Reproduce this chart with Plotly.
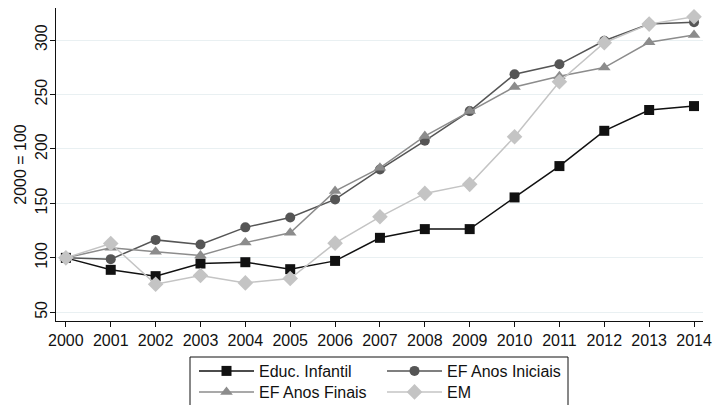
import plotly.graph_objects as go

years = list(range(2000, 2015))
educ_infantil = [100, 89, 83.2, 94.8, 96, 89.6, 97.2, 118.4, 126.4, 126.4, 155.5, 184.3, 216.7, 235.8, 239.4]
ef_iniciais = [100, 98.8, 116.5, 112.3, 128, 137.1, 153.7, 181.2, 207.5, 234.8, 268.6, 277.8, 299.4, 314.7, 316.5]
ef_finais = [100, 109.2, 105.5, 102.2, 114, 123, 161.3, 182.7, 211.9, 234.8, 257, 266.8, 274.8, 298, 304.7]
em = [100, 113.2, 75.8, 83.8, 77, 81, 113.5, 137.7, 159.2, 167.5, 211.2, 261.8, 297.6, 314.7, 321.5]
y_ticks = [50, 100, 150, 200, 250, 300]

FONT = "Liberation Sans, Arial, Helvetica, sans-serif"
FS = 16

series = [
    ("Educ. Infantil", educ_infantil, "#111111", "square", 10, "legend"),
    ("EF Anos Iniciais", ef_iniciais, "#555555", "circle", 10, "legend"),
    ("EF Anos Finais", ef_finais, "#8c8c8c", "triangle-up", 11, "legend2"),
    ("EM", em, "#c4c4c4", "diamond", 12, "legend2"),
]

fig = go.Figure()
for name, vals, color, sym, size, lg in series:
    fig.add_trace(go.Scatter(
        x=years, y=vals, name=name, mode="lines+markers",
        line=dict(color=color, width=1.5),
        marker=dict(symbol=sym, size=size, color=color, line=dict(width=0)),
        legend=lg,
    ))

# body margin removed by post_script, so no page offset
OFF = 0
W, H = 713 - OFF, 405 - OFF
# desired plot area in screenshot pixels
PL, PR, PT, PB = 56, 703, 8, 321
ml, mr, mt, mb = PL - OFF, W - (PR - OFF), PT - OFF, H - (PB - OFF)
pw, ph = W - ml - mr, H - mt - mb

def px_x(px):
    return (px - OFF - ml) / pw

def px_y(py):
    return (H - mb - (py - OFF)) / ph

legend_common = dict(
    orientation="h", xanchor="left", yanchor="top",
    entrywidth=118, entrywidthmode="pixels", itemwidth=55,
    font=dict(family=FONT, size=FS, color="#111"),
    bgcolor="rgba(0,0,0,0)", borderwidth=0,
    tracegroupgap=0,
)

fig.update_layout(
    width=W, height=H,
    margin=dict(l=ml, r=mr, t=mt, b=mb, autoexpand=False),
    paper_bgcolor="white", plot_bgcolor="white",
    font=dict(family=FONT, size=FS, color="#111"),
    showlegend=True,
    legend=dict(x=px_x(194), y=px_y(354), **legend_common),
    legend2=dict(x=px_x(194), y=px_y(375), **legend_common),
    xaxis=dict(
        range=[1999.78, 2014.2], tickmode="array", tickvals=years,
        ticktext=[str(y) for y in years],
        showgrid=False, zeroline=False,
        showline=True, linecolor="#111", linewidth=1,
        ticks="outside", ticklen=5, tickcolor="#111",
        ticklabeloverflow="allow",
        tickfont=dict(family=FONT, size=FS, color="#111"),
    ),
    yaxis=dict(
        range=[42, 329.5], tickmode="array", tickvals=y_ticks,
        showgrid=True, gridcolor="#e9f0f2", gridwidth=1, zeroline=False,
        showline=True, linecolor="#111", linewidth=1,
        ticks="outside", ticklen=5, tickcolor="#111", tickangle=-90,
        ticklabelstandoff=-3,
        tickfont=dict(family=FONT, size=FS, color="#111"),
        title=dict(text="2000 = 100", font=dict(family=FONT, size=FS, color="#111"), standoff=1),
    ),
    shapes=[dict(
        type="rect", xref="paper", yref="paper",
        x0=px_x(190), x1=px_x(568), y0=px_y(412), y1=px_y(357),
        line=dict(color="#111", width=1), fillcolor="rgba(0,0,0,0)",
    )],
)

fig.write_html(
    "out.html",
    config={"displayModeBar": False},
    post_script="document.body.style.margin='0';document.body.style.overflow='hidden';",
)
